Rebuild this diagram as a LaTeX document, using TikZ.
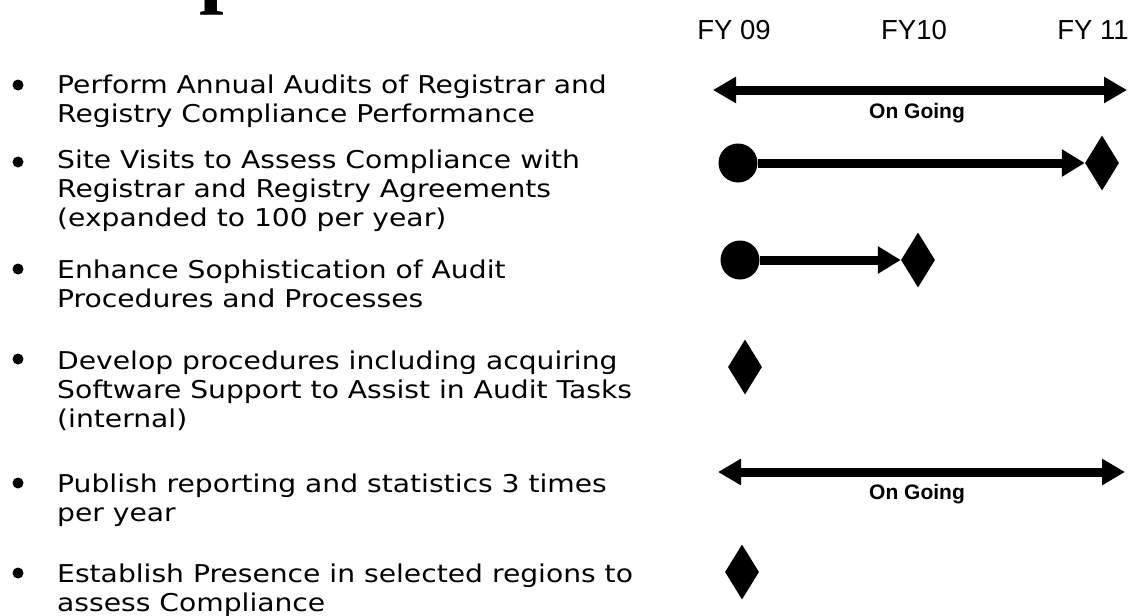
\documentclass[tikz,border=0pt]{standalone}
\usepackage{fontspec}
\setmainfont[FakeStretch=1.15]{DejaVu Sans}
\newfontfamily\arialfont{Liberation Sans}
\newfontfamily\timesfont{Liberation Serif}
\usetikzlibrary{arrows.meta,shapes.geometric,positioning}

\begin{document}
\begin{tikzpicture}[x=1pt,y=-1pt]
\tikzset{puce/.style={circle, fill, inner sep=0pt, minimum size=11pt}}
\tikzset{tache/.style={anchor=base west, align=left, inner sep=0pt, font=\fontsize{24.5}{29}\selectfont}}
\tikzset{annee/.style={anchor=base, inner sep=0pt, font=\arialfont\fontsize{27.5}{28}\selectfont}}
\tikzset{debut/.style={circle, fill, inner sep=0pt, minimum size=39pt}}
\tikzset{fin/.style={diamond, fill, inner sep=0pt, minimum width=34pt, minimum height=55pt}}
\tikzset{fleche/.style={line width=9pt, -{Triangle[length=23pt,width=26pt]}}}
\tikzset{encours/.style={line width=9pt, {Triangle[length=23pt,width=25pt]}-{Triangle[length=23pt,width=25pt]}}}
\tikzset{note/.style={anchor=base, inner sep=0pt, font=\arialfont\bfseries\fontsize{21}{21}\selectfont}}
\clip (0,0) rectangle (1128,616);
\node[anchor=base west, inner sep=0pt, font=\timesfont\bfseries\fontsize{88}{88}\selectfont] (titre) at (199,-4) {p};
% annees
\node[annee] (FY09) at (734,39) {FY 09};
\node[annee] (FY10) at (914,39) {FY10};
\node[annee] (FY11) at (1093,39) {FY 11};
% taches (ancre sur la derniere ligne)
\node[puce] (P1) at (18,85) {};
\node[puce] (P2) at (18,162) {};
\node[puce] (P3) at (18,269) {};
\node[puce] (P4) at (18,359) {};
\node[puce] (P5) at (18,483) {};
\node[puce] (P6) at (18,573) {};
\node[tache] (T1) at (57,122) {Perform Annual Audits of Registrar and\\Registry Compliance Performance};
\node[tache] (T2) at (57,226) {Site Visits to Assess Compliance with\\Registrar and Registry Agreements\\(expanded to 100 per year)};
\node[tache] (T3) at (57,307) {Enhance Sophistication of Audit\\Procedures and Processes};
\node[tache] (T4) at (57,427) {Develop procedures including acquiring\\Software Support to Assist in Audit Tasks\\(internal)};
\node[tache] (T5) at (57,521) {Publish reporting and statistics 3 times\\per year};
\node[tache] (T6) at (57,611) {Establish Presence in selected regions to\\assess Compliance};
% calendrier
\coordinate (G1) at (713,90);
\coordinate (D1) at (1127,90);
\draw[encours] (G1) -- (D1);
\node[note] (O1) at (917,118) {On Going};
\node[debut] (S2) at (738,163) {};
\node[fin] (E2) at (1102,163) {};
\draw[fleche] (S2) -- (E2);
\node[debut] (S3) at (740,260) {};
\node[fin] (E3) at (918,260) {};
\draw[fleche] (S3) -- (E3);
\node[fin] (E4) at (745,367) {};
\coordinate (G5) at (718,472);
\coordinate (D5) at (1125,472);
\draw[encours] (G5) -- (D5);
\node[note] (O5) at (917,499) {On Going};
\node[fin] (E6) at (742,572) {};
\end{tikzpicture}
\end{document}
